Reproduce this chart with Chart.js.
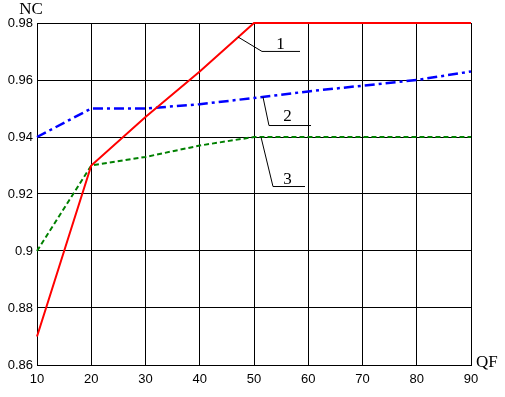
<!DOCTYPE html>
<html>
<head>
<meta charset="utf-8">
<script src="https://cdn.jsdelivr.net/npm/chart.js@4"></script>
<style>
  html, body { margin: 0; padding: 0; background: #fff; }
  #wrap { width: 505px; height: 397px; }
</style>
</head>
<body>
<div id="wrap"><canvas id="chart" width="505" height="397"></canvas></div>
<script>
// data
const qf = [10, 20, 30, 40, 50, 60, 70, 80, 90];
const nc1 = [0.870, 0.930, 0.947, 0.963, 0.980, 0.980, 0.980, 0.980, 0.980];
const nc2 = [0.940, 0.950, 0.950, 0.9515, 0.9537, 0.956, 0.958, 0.960, 0.963];
const nc3 = [0.900, 0.930, 0.933, 0.937, 0.940, 0.940, 0.940, 0.940, 0.940];

// curve labels with leader lines, in data units: [label, start, corner, end, text pos]
const callouts = [
    ['1', [47.05, 0.9751], [51.47, 0.9702], [58.48, 0.9702], [54.88, 0.9709]],
    ['2', [51.66, 0.9540], [52.76, 0.9442], [60.51, 0.9442], [56.18, 0.9456]],
    ['3', [51.29, 0.9400], [53.50, 0.9228], [59.40, 0.9228], [56.18, 0.9235]]
];

const serif = '"Liberation Serif", "Times New Roman", serif';

const extras = {
    id: 'extras',
    afterDatasetsDraw(chart) {
        const ctx = chart.ctx;
        const x = chart.scales.x, y = chart.scales.y;
        const area = chart.chartArea;
        ctx.save();
        ctx.strokeStyle = '#000';
        ctx.lineWidth = 1;
        ctx.fillStyle = '#000';
        ctx.font = '17px ' + serif;
        ctx.textAlign = 'center';
        ctx.textBaseline = 'alphabetic';
        callouts.forEach(c => {
            ctx.beginPath();
            ctx.moveTo(x.getPixelForValue(c[1][0]), y.getPixelForValue(c[1][1]));
            ctx.lineTo(x.getPixelForValue(c[2][0]), y.getPixelForValue(c[2][1]) + 0.5);
            ctx.lineTo(x.getPixelForValue(c[3][0]), y.getPixelForValue(c[3][1]) + 0.5);
            ctx.stroke();
            ctx.fillText(c[0], x.getPixelForValue(c[4][0]), y.getPixelForValue(c[4][1]));
        });
        // axis names
        ctx.font = '17px ' + serif;
        ctx.textAlign = 'center';
        ctx.fillText('NC', area.left - 6, area.top - 9);
        ctx.textAlign = 'left';
        ctx.fillText('QF', area.right + 5, area.bottom + 2);
        ctx.restore();
    }
};

new Chart(document.getElementById('chart'), {
    type: 'line',
    data: {
        labels: qf,
        datasets: [{
            data: qf.map((v, i) => ({ x: v, y: nc1[i] })),
            borderColor: '#ff0000',
            borderWidth: 2,
            pointRadius: 0,
            tension: 0
        }, {
            data: qf.map((v, i) => ({ x: v, y: nc2[i] })),
            borderColor: '#0000ff',
            borderWidth: 2.5,
            borderDash: [10, 4, 3, 4],
            pointRadius: 0,
            tension: 0
        }, {
            data: qf.map((v, i) => ({ x: v, y: nc3[i] })),
            borderColor: '#008000',
            borderWidth: 2,
            borderDash: [5, 3],
            pointRadius: 0,
            tension: 0
        }]
    },
    options: {
        responsive: false,
        animation: false,
        clip: false,
        layout: { padding: { top: 23, right: 34, left: 0, bottom: 0 } },
        plugins: {
            legend: { display: false },
            tooltip: { enabled: false }
        },
        scales: {
            x: {
                type: 'linear',
                min: 10,
                max: 90,
                ticks: {
                    stepSize: 10,
                    color: '#000',
                    font: { family: '"Liberation Sans", Arial, sans-serif', size: 13 },
                    padding: 7,
                    maxRotation: 0
                },
                grid: { color: '#000', lineWidth: 1, drawTicks: false },
                border: { color: '#000', width: 1 },
                afterFit(scale) { scale.height = 32; }
            },
            y: {
                min: 0.86,
                max: 0.98,
                ticks: {
                    stepSize: 0.02,
                    color: '#000',
                    font: { family: '"Liberation Sans", Arial, sans-serif', size: 13 },
                    padding: 4,
                    callback: v => String(Number(v.toFixed(2)))
                },
                grid: { color: '#000', lineWidth: 1, drawTicks: false },
                border: { color: '#000', width: 1 },
                afterFit(scale) { scale.width = 37; }
            }
        }
    },
    plugins: [extras]
});
</script>
</body>
</html>
